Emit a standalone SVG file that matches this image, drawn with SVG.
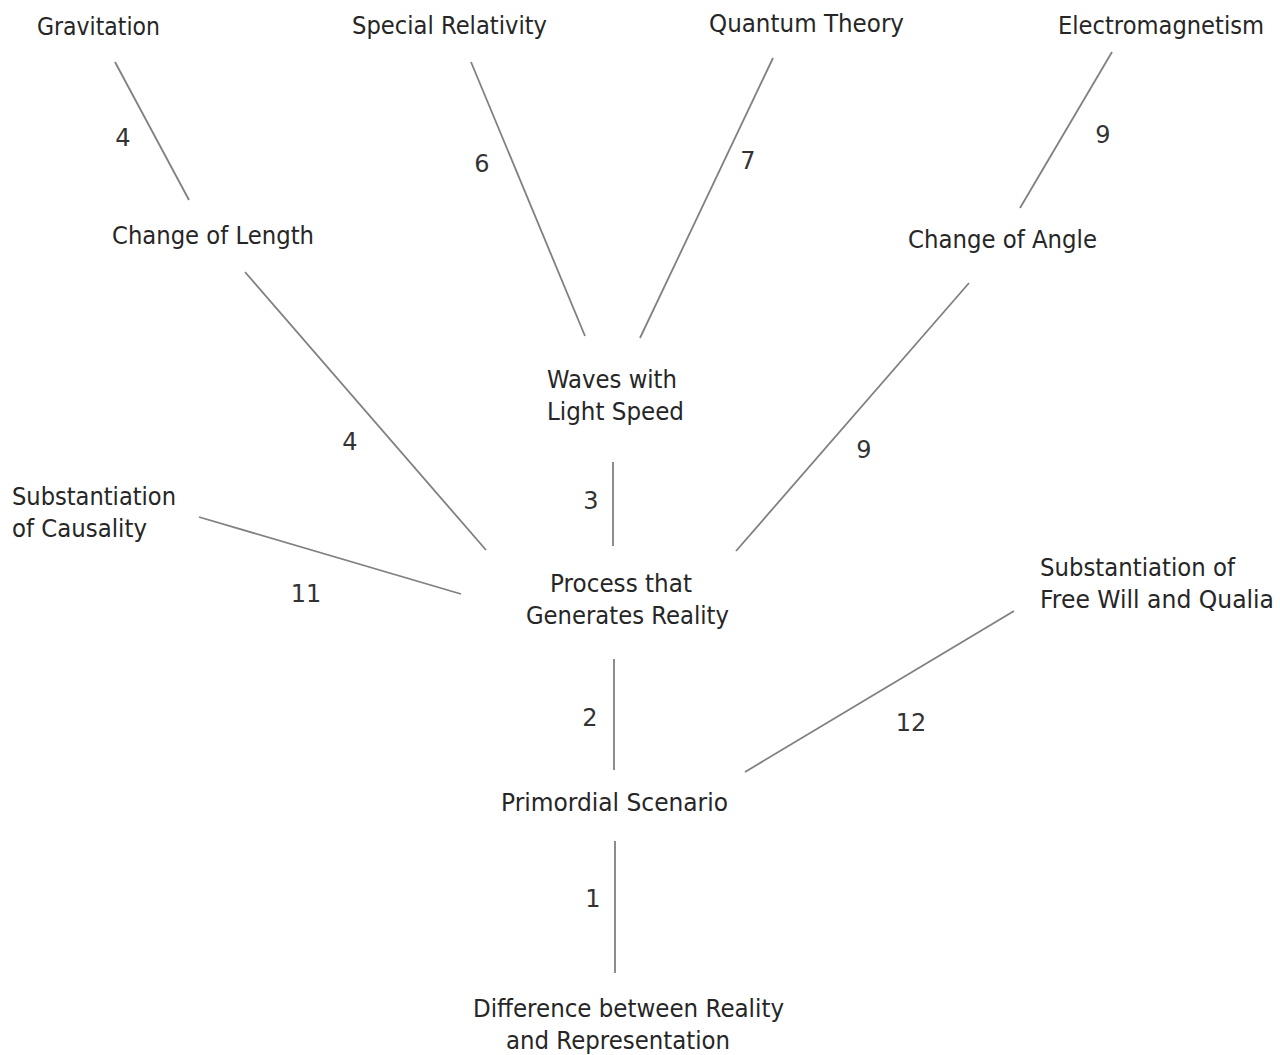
<svg xmlns="http://www.w3.org/2000/svg" width="1280" height="1055" viewBox="0 0 1280 1055">
<style>
.t{font-family:"DejaVu Sans","Liberation Sans",sans-serif;font-size:24px;fill:#262626;}
.n{font-family:"DejaVu Sans","Liberation Sans",sans-serif;font-size:24px;fill:#333;text-anchor:middle;}
.c line{stroke:#808080;stroke-width:1.8;stroke-linecap:butt;}
</style>
<rect width="1280" height="1055" fill="#fff"/>
<g id="connectors" class="c">
<line x1="115" y1="62" x2="189" y2="200"/>
<line x1="471" y1="62" x2="585" y2="336"/>
<line x1="773" y1="58" x2="640" y2="338"/>
<line x1="1112" y1="52" x2="1020" y2="208"/>
<line x1="245" y1="272" x2="486" y2="550"/>
<line x1="969" y1="283" x2="736" y2="551"/>
<line x1="613" y1="462" x2="613" y2="546"/>
<line x1="199" y1="517" x2="461" y2="594"/>
<line x1="614" y1="659" x2="614" y2="770"/>
<line x1="745" y1="772" x2="1014" y2="611"/>
<line x1="615" y1="841" x2="615" y2="973"/>
</g>
<g id="edge-labels">
<text class="n" x="123" y="146">4</text>
<text class="n" x="482" y="172">6</text>
<text class="n" x="748" y="169">7</text>
<text class="n" x="1103" y="143">9</text>
<text class="n" x="350" y="450">4</text>
<text class="n" x="864" y="458">9</text>
<text class="n" x="591" y="509">3</text>
<text class="n" x="306" y="602">11</text>
<text class="n" x="590" y="726">2</text>
<text class="n" x="911" y="731">12</text>
<text class="n" x="593" y="907">1</text>
</g>
<g id="node-gravitation"><text class="t" x="37" y="35" textLength="123" lengthAdjust="spacingAndGlyphs">Gravitation</text></g>
<g id="node-special-relativity"><text class="t" x="352" y="34" textLength="195" lengthAdjust="spacingAndGlyphs">Special Relativity</text></g>
<g id="node-quantum-theory"><text class="t" x="709" y="32" textLength="195" lengthAdjust="spacingAndGlyphs">Quantum Theory</text></g>
<g id="node-electromagnetism"><text class="t" x="1058" y="34" textLength="206" lengthAdjust="spacingAndGlyphs">Electromagnetism</text></g>
<g id="node-change-of-length"><text class="t" x="112" y="244" textLength="202" lengthAdjust="spacingAndGlyphs">Change of Length</text></g>
<g id="node-change-of-angle"><text class="t" x="908" y="248" textLength="189" lengthAdjust="spacingAndGlyphs">Change of Angle</text></g>
<g id="node-waves"><text class="t" x="547" y="388" textLength="130" lengthAdjust="spacingAndGlyphs">Waves with</text><text class="t" x="547" y="420" textLength="137" lengthAdjust="spacingAndGlyphs">Light Speed</text></g>
<g id="node-causality"><text class="t" x="12" y="505" textLength="164" lengthAdjust="spacingAndGlyphs">Substantiation</text><text class="t" x="12" y="537" textLength="135" lengthAdjust="spacingAndGlyphs">of Causality</text></g>
<g id="node-process"><text class="t" x="550" y="592" textLength="142" lengthAdjust="spacingAndGlyphs">Process that</text><text class="t" x="526" y="624" textLength="203" lengthAdjust="spacingAndGlyphs">Generates Reality</text></g>
<g id="node-free-will"><text class="t" x="1040" y="576" textLength="195" lengthAdjust="spacingAndGlyphs">Substantiation of</text><text class="t" x="1040" y="608" textLength="234" lengthAdjust="spacingAndGlyphs">Free Will and Qualia</text></g>
<g id="node-primordial"><text class="t" x="501" y="811" textLength="227" lengthAdjust="spacingAndGlyphs">Primordial Scenario</text></g>
<g id="node-difference"><text class="t" x="473" y="1017" textLength="311" lengthAdjust="spacingAndGlyphs">Difference between Reality</text><text class="t" x="506" y="1049" textLength="224" lengthAdjust="spacingAndGlyphs">and Representation</text></g>
</svg>
